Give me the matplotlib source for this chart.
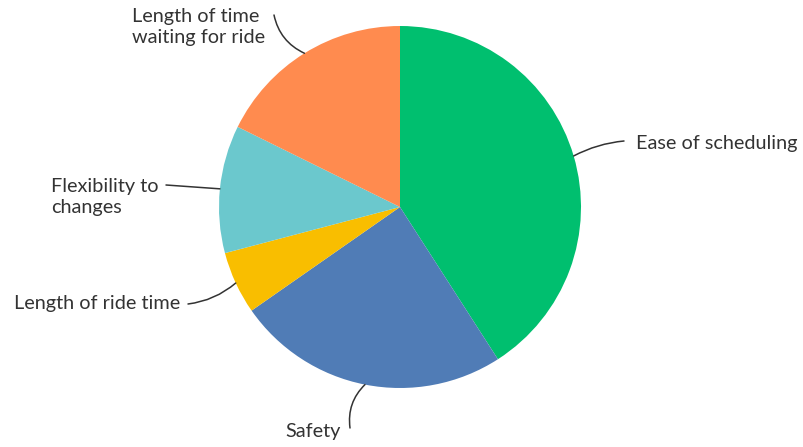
import numpy as np
import matplotlib
matplotlib.use("Agg")
import matplotlib.pyplot as plt

# share of responses per factor
labels = ["Ease of scheduling", "Safety", "Length of ride time",
          "Flexibility to\nchanges", "Length of time\nwaiting for ride"]
values = [40.9, 24.4, 5.6, 11.4, 17.7]
colors = ["#00BF6F", "#507CB6", "#F9BE00", "#6BC8CD", "#FF8B4F"]

# where each label sits (figure pixels, top-left origin) and how it is aligned
label_pos = [(636, 143), (341, 431), (180, 303), (159, 197), (265, 27)]
label_ha = ["left", "right", "right", "right", "right"]
leader_end = [(624, 141), (350, 428), (188, 304), (166, 185), (274, 15)]
leader_rad = [0.1, -0.25, 0.15, 0.0, 0.25]

W, H = 804, 447
fig = plt.figure(figsize=(W / 100, H / 100), dpi=100)
fig.patch.set_facecolor("white")

cx, cy, r = 400, 207, 181
ax = fig.add_axes([(cx - r) / W, (H - cy - r) / H, 2 * r / W, 2 * r / H])
wedges, _ = ax.pie(values, colors=colors, startangle=90, counterclock=False,
                   radius=1.0, wedgeprops=dict(linewidth=0))
ax.set_xlim(-1, 1)
ax.set_ylim(-1, 1)
ax.set_aspect("equal")
ax.axis("off")

for w, lab, (tx, ty), ha, (ex, ey), rad in zip(wedges, labels, label_pos,
                                                label_ha, leader_end, leader_rad):
    mid = np.deg2rad((w.theta1 + w.theta2) / 2)
    px, py = np.cos(mid), np.sin(mid)
    # leader line from the wedge edge to the label
    ax.annotate("", xy=(px, py), xycoords="data",
                xytext=(ex, H - ey), textcoords="figure pixels",
                arrowprops=dict(arrowstyle="-", color="#333333", lw=1.1,
                                shrinkA=0, shrinkB=0,
                                connectionstyle=f"arc3,rad={rad}"))
    fig.text(tx / W, 1 - ty / H, lab, ha=ha, va="center",
             multialignment="left", fontsize=14.3, family="Lato",
             color="#333333", linespacing=1.3)

fig.savefig("out.png", dpi=100, facecolor="white")
